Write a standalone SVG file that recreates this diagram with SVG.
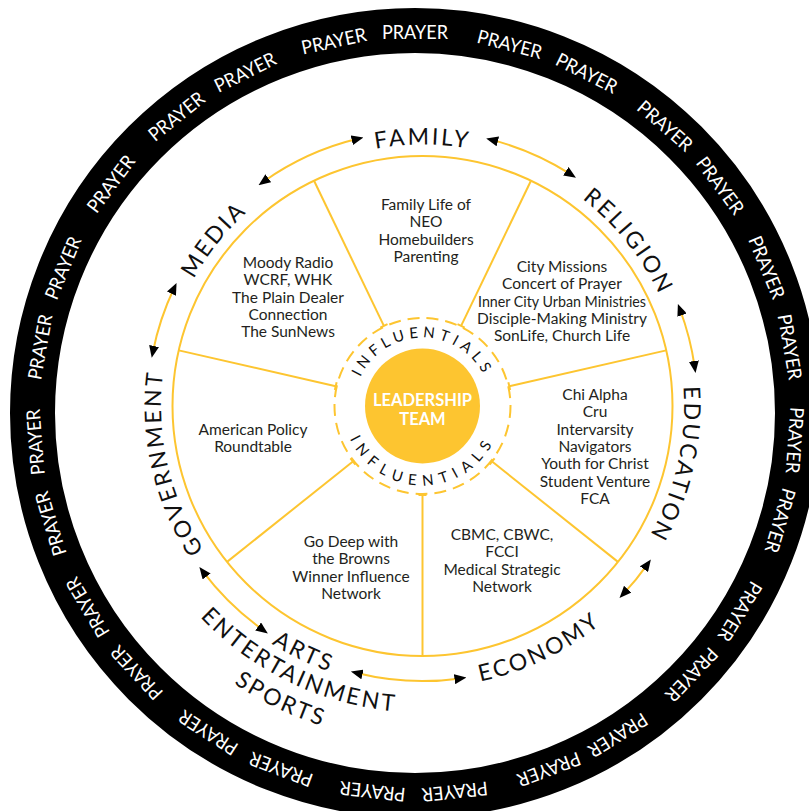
<svg xmlns="http://www.w3.org/2000/svg" xmlns:xlink="http://www.w3.org/1999/xlink" width="809" height="811" viewBox="0 0 809 811">
<style>
.ring{fill:none;stroke:#000;stroke-width:45}
.pr{font-family:Lato,"Liberation Sans",sans-serif;font-size:19px;fill:#fff;text-anchor:middle}
.yl{fill:none;stroke:#FDC530;stroke-width:2}
.lab{font-family:Lato,"Liberation Sans",sans-serif;font-weight:400;font-size:23px;fill:#111;letter-spacing:2.6px}
.body{font-family:Lato,"Liberation Sans",sans-serif;font-size:15.5px;fill:#231F20;text-anchor:middle}
.inf{font-family:Lato,"Liberation Sans",sans-serif;font-weight:400;font-size:15px;fill:#111}
.lead{font-family:Lato,"Liberation Sans",sans-serif;font-weight:700;font-size:16.5px;fill:#fff;text-anchor:middle}
.arr{fill:none;stroke:#FDC530;stroke-width:2;marker-start:url(#ah);marker-end:url(#ah)}
</style>
<defs>
<marker id="ah" viewBox="0 0 12 10" refX="6" refY="5" markerWidth="12" markerHeight="10" markerUnits="userSpaceOnUse" orient="auto-start-reverse"><path d="M0,0 L12,5 L0,10 z" fill="#000"/></marker>
<path id="arcTop" d="M161,406 A261.5,261.5 0 0 1 684,406"/>
<path id="arcBot1" d="M141,406 A281.5,281.5 0 0 0 704,406"/>
<path id="arcBot2" d="M116,406 A306.5,306.5 0 0 0 729,406"/>
<path id="arcBot3" d="M87,406 A335.5,335.5 0 0 0 758,406"/>
<path id="infTop" d="M354,406 A68.5,68.5 0 0 1 491,406"/>
<path id="infBot" d="M343,406 A79.5,79.5 0 0 0 502,406"/>
<g id="spoke"><line x1="422.5" y1="317" x2="422.5" y2="156" class="yl"/><line x1="418.5" y1="317" x2="426.5" y2="317" class="yl"/></g>
</defs>
<rect width="809" height="811" fill="#fff"/>
<g id="prayer-ring">
<circle cx="415" cy="413" r="382.5" class="ring"/>
<text class="pr" x="415" y="39" textLength="66" lengthAdjust="spacingAndGlyphs" transform="rotate(0 415 413)">PRAYER</text>
<text class="pr" x="415" y="39" textLength="66" lengthAdjust="spacingAndGlyphs" transform="rotate(14.4 415 413)">PRAYER</text>
<text class="pr" x="415" y="39" textLength="66" lengthAdjust="spacingAndGlyphs" transform="rotate(26.8 415 413)">PRAYER</text>
<text class="pr" x="415" y="39" textLength="66" lengthAdjust="spacingAndGlyphs" transform="rotate(41.05 415 413)">PRAYER</text>
<text class="pr" x="415" y="39" textLength="66" lengthAdjust="spacingAndGlyphs" transform="rotate(53.3 415 413)">PRAYER</text>
<text class="pr" x="415" y="39" textLength="66" lengthAdjust="spacingAndGlyphs" transform="rotate(67.5 415 413)">PRAYER</text>
<text class="pr" x="415" y="39" textLength="66" lengthAdjust="spacingAndGlyphs" transform="rotate(80 415 413)">PRAYER</text>
<text class="pr" x="415" y="39" textLength="66" lengthAdjust="spacingAndGlyphs" transform="rotate(94.1 415 413)">PRAYER</text>
<text class="pr" x="415" y="39" textLength="66" lengthAdjust="spacingAndGlyphs" transform="rotate(106.4 415 413)">PRAYER</text>
<text class="pr" x="415" y="39" textLength="66" lengthAdjust="spacingAndGlyphs" transform="rotate(121.4 415 413)">PRAYER</text>
<text class="pr" x="415" y="39" textLength="66" lengthAdjust="spacingAndGlyphs" transform="rotate(133.4 415 413)">PRAYER</text>
<text class="pr" x="415" y="39" textLength="66" lengthAdjust="spacingAndGlyphs" transform="rotate(147.8 415 413)">PRAYER</text>
<text class="pr" x="415" y="39" textLength="66" lengthAdjust="spacingAndGlyphs" transform="rotate(159.4 415 413)">PRAYER</text>
<text class="pr" x="415" y="39" textLength="66" lengthAdjust="spacingAndGlyphs" transform="rotate(174 415 413)">PRAYER</text>
<text class="pr" x="415" y="39" textLength="66" lengthAdjust="spacingAndGlyphs" transform="rotate(186.4 415 413)">PRAYER</text>
<text class="pr" x="415" y="39" textLength="66" lengthAdjust="spacingAndGlyphs" transform="rotate(200.6 415 413)">PRAYER</text>
<text class="pr" x="415" y="39" textLength="66" lengthAdjust="spacingAndGlyphs" transform="rotate(212.9 415 413)">PRAYER</text>
<text class="pr" x="415" y="39" textLength="66" lengthAdjust="spacingAndGlyphs" transform="rotate(227 415 413)">PRAYER</text>
<text class="pr" x="415" y="39" textLength="66" lengthAdjust="spacingAndGlyphs" transform="rotate(239.3 415 413)">PRAYER</text>
<text class="pr" x="415" y="39" textLength="66" lengthAdjust="spacingAndGlyphs" transform="rotate(253.1 415 413)">PRAYER</text>
<text class="pr" x="415" y="39" textLength="66" lengthAdjust="spacingAndGlyphs" transform="rotate(265.6 415 413)">PRAYER</text>
<text class="pr" x="415" y="39" textLength="66" lengthAdjust="spacingAndGlyphs" transform="rotate(280 415 413)">PRAYER</text>
<text class="pr" x="415" y="39" textLength="66" lengthAdjust="spacingAndGlyphs" transform="rotate(292.4 415 413)">PRAYER</text>
<text class="pr" x="415" y="39" textLength="66" lengthAdjust="spacingAndGlyphs" transform="rotate(307 415 413)">PRAYER</text>
<text class="pr" x="415" y="39" textLength="66" lengthAdjust="spacingAndGlyphs" transform="rotate(321.2 415 413)">PRAYER</text>
<text class="pr" x="415" y="39" textLength="66" lengthAdjust="spacingAndGlyphs" transform="rotate(333.5 415 413)">PRAYER</text>
<text class="pr" x="415" y="39" textLength="66" lengthAdjust="spacingAndGlyphs" transform="rotate(347.7 415 413)">PRAYER</text>
</g>
<g id="wheel">
<circle cx="422.5" cy="406" r="250" class="yl"/>
<use xlink:href="#spoke" transform="rotate(25.71 422.5 406)"/>
<use xlink:href="#spoke" transform="rotate(77.14 422.5 406)"/>
<use xlink:href="#spoke" transform="rotate(128.57 422.5 406)"/>
<use xlink:href="#spoke" transform="rotate(180 422.5 406)"/>
<use xlink:href="#spoke" transform="rotate(231.43 422.5 406)"/>
<use xlink:href="#spoke" transform="rotate(282.86 422.5 406)"/>
<use xlink:href="#spoke" transform="rotate(334.29 422.5 406)"/>
</g>
<g id="center">
<circle cx="422.5" cy="406" r="88" fill="none" stroke="#FDC530" stroke-width="2" stroke-dasharray="12 7"/>
<circle cx="422.5" cy="406" r="57.5" fill="#FDC530"/>
<text class="lead" x="422.5" y="405.5">LEADERSHIP</text>
<text class="lead" x="422.5" y="425">TEAM</text>
<text class="inf" letter-spacing="4.5"><textPath xlink:href="#infTop" startOffset="50%" text-anchor="middle">INFLUENTIALS</textPath></text>
<text class="inf" letter-spacing="6.7"><textPath xlink:href="#infBot" startOffset="50%" text-anchor="middle">INFLUENTIALS</textPath></text>
</g>
<g id="family">
<text class="lab" transform="rotate(0 422.5 406)"><textPath xlink:href="#arcTop" startOffset="50%" text-anchor="middle">FAMILY</textPath></text>
<text class="body" x="426" y="210">Family Life of</text>
<text class="body" x="426" y="227.3">NEO</text>
<text class="body" x="426" y="244.6">Homebuilders</text>
<text class="body" x="426" y="262">Parenting</text>
</g>
<g id="religion">
<text class="lab" transform="rotate(51.43 422.5 406)"><textPath xlink:href="#arcTop" startOffset="50%" text-anchor="middle">RELIGION</textPath></text>
<text class="body" x="562" y="272">City Missions</text>
<text class="body" x="562" y="289.3">Concert of Prayer</text>
<text class="body" x="562" y="306.6" textLength="168" lengthAdjust="spacingAndGlyphs">Inner City Urban Ministries</text>
<text class="body" x="562" y="323.9">Disciple-Making Ministry</text>
<text class="body" x="562" y="341.2">SonLife, Church Life</text>
</g>
<g id="education">
<text class="lab" transform="rotate(102.86 422.5 406)"><textPath xlink:href="#arcTop" startOffset="50%" text-anchor="middle">EDUCATION</textPath></text>
<text class="body" x="595" y="400">Chi Alpha</text>
<text class="body" x="595" y="417.3">Cru</text>
<text class="body" x="595" y="434.6">Intervarsity</text>
<text class="body" x="595" y="451.9">Navigators</text>
<text class="body" x="595" y="469.2">Youth for Christ</text>
<text class="body" x="595" y="486.5">Student Venture</text>
<text class="body" x="595" y="503.8">FCA</text>
</g>
<g id="economy">
<text class="lab" transform="rotate(-25.71 422.5 406)"><textPath xlink:href="#arcBot1" startOffset="50%" text-anchor="middle">ECONOMY</textPath></text>
<text class="body" x="502" y="540">CBMC, CBWC,</text>
<text class="body" x="502" y="557.3">FCCI</text>
<text class="body" x="502" y="574.6">Medical Strategic</text>
<text class="body" x="502" y="591.9">Network</text>
</g>
<g id="arts">
<text class="lab" transform="rotate(25.71 422.5 406)"><textPath xlink:href="#arcBot1" startOffset="50%" text-anchor="middle">ARTS</textPath></text>
<text class="lab" transform="rotate(25.71 422.5 406)"><textPath xlink:href="#arcBot2" startOffset="50%" text-anchor="middle">ENTERTAINMENT</textPath></text>
<text class="lab" transform="rotate(25.71 422.5 406)"><textPath xlink:href="#arcBot3" startOffset="50%" text-anchor="middle">SPORTS</textPath></text>
<text class="body" x="351" y="547">Go Deep with</text>
<text class="body" x="351" y="564.3">the Browns</text>
<text class="body" x="351" y="581.6">Winner Influence</text>
<text class="body" x="351" y="598.9">Network</text>
</g>
<g id="government">
<text class="lab" transform="rotate(257.14 422.5 406)"><textPath xlink:href="#arcTop" startOffset="50%" text-anchor="middle">GOVERNMENT</textPath></text>
<text class="body" x="253" y="435">American Policy</text>
<text class="body" x="253" y="452">Roundtable</text>
</g>
<g id="media">
<text class="lab" transform="rotate(308.57 422.5 406)"><textPath xlink:href="#arcTop" startOffset="50%" text-anchor="middle">MEDIA</textPath></text>
<text class="body" x="288" y="268">Moody Radio</text>
<text class="body" x="288" y="285.3">WCRF, WHK</text>
<text class="body" x="288" y="302.6">The Plain Dealer</text>
<text class="body" x="288" y="319.9">Connection</text>
<text class="body" x="288" y="337.2">The SunNews</text>
</g>
<g id="connectors">
<path class="arr" d="M263.4,181.7 A275,275 0 0 1 357.6,138.8"/>
<path class="arr" d="M492.0,139.9 A275,275 0 0 1 570.9,174.4"/>
<path class="arr" d="M680.0,309.5 A275,275 0 0 1 694.7,367.0"/>
<path class="arr" d="M647.4,564.3 A275,275 0 0 1 623.6,593.6"/>
<path class="arr" d="M460.5,678.4 A275,275 0 0 1 356.7,673.0"/>
<path class="arr" d="M263.0,630.0 A275,275 0 0 1 203.0,571.7"/>
<path class="arr" d="M152.9,351.9 A275,275 0 0 1 174.0,288.3"/>
</g>
</svg>
